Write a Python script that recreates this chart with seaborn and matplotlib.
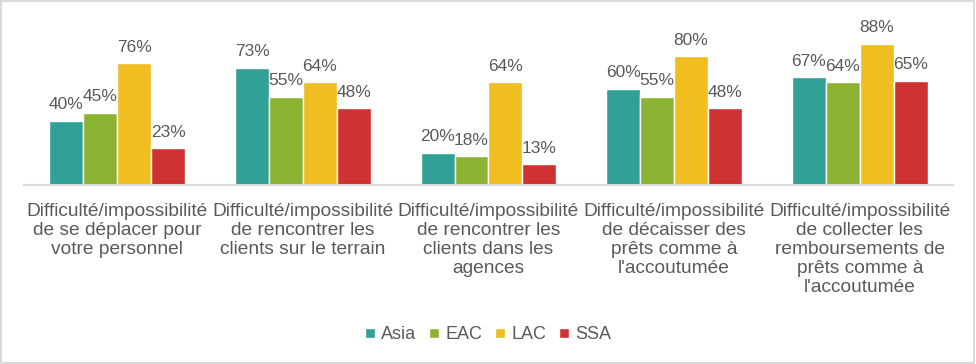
import pandas as pd
import matplotlib.pyplot as plt
import seaborn as sns
from matplotlib.patches import Rectangle

sns.set_style("white")
plt.rcParams['font.family'] = ['Liberation Sans', 'DejaVu Sans']

categories = [
    "Difficulté/impossibilité\nde se déplacer pour\nvotre personnel",
    "Difficulté/impossibilité\nde rencontrer les\nclients sur le terrain",
    "Difficulté/impossibilité\nde rencontrer les\nclients dans les\nagences",
    "Difficulté/impossibilité\nde décaisser des\nprêts comme à\nl'accoutumée",
    "Difficulté/impossibilité\nde collecter les\nremboursements de\nprêts comme à\nl'accoutumée",
]
regions = ["Asia", "EAC", "LAC", "SSA"]
asia = [40, 73, 20, 60, 67]
eac = [45, 55, 18, 55, 64]
lac = [76, 64, 64, 80, 88]
ssa = [23, 48, 13, 48, 65]

colors = ["#31A096", "#8CB232", "#F0BE20", "#CF3232"]
text_col = "#595959"

rows = []
for reg, vals in zip(regions, [asia, eac, lac, ssa]):
    for cat, v in zip(categories, vals):
        rows.append({"Catégorie": cat, "Région": reg, "Valeur": v})
df = pd.DataFrame(rows)

fig = plt.figure(figsize=(9.76, 3.64), dpi=100)
ax = fig.add_axes([0.025, 0.492, 0.951, 0.441])

sns.barplot(data=df, x="Catégorie", y="Valeur", hue="Région", palette=colors,
            width=0.73, gap=0, saturation=1, ax=ax, legend=True)

for c in ax.containers:
    ax.bar_label(c, labels=[f"{int(v)}%" for v in c.datavalues],
                 padding=6, fontsize=12.5, color=text_col)

ax.set_ylim(0, 100)
ax.set_xlim(-0.5, 4.5)
ax.set_yticks([])
ax.set_xlabel("")
ax.set_ylabel("")
for s in ["top", "right", "left"]:
    ax.spines[s].set_visible(False)
ax.spines["bottom"].set_color("#D9D9D9")
ax.spines["bottom"].set_linewidth(1.5)
ax.tick_params(axis="x", length=0, pad=13, labelsize=13.8, labelcolor=text_col)
for lbl in ax.get_xticklabels():
    lbl.set_verticalalignment("top")
    lbl.set_linespacing(1.15)

leg = ax.legend(loc="center", bbox_to_anchor=(0.5, 0.08), bbox_transform=fig.transFigure,
                ncol=4, frameon=False, fontsize=13, handlelength=0.55, handleheight=0.55,
                handletextpad=0.35, columnspacing=0.7)
for t in leg.get_texts():
    t.set_color(text_col)

fig.patches.append(Rectangle((0.001, 0.002), 0.997, 0.995, transform=fig.transFigure,
                             fill=False, edgecolor="#D9D9D9", linewidth=1.5))

fig.savefig("out.png", dpi=100)
